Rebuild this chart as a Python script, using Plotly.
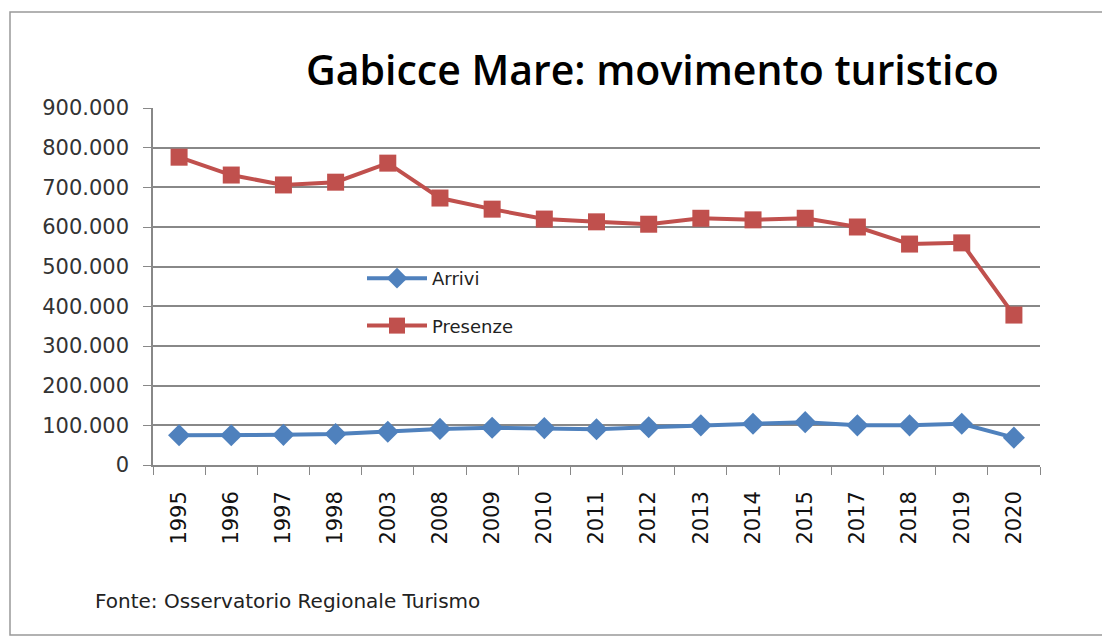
import plotly.graph_objects as go

anni = ["1995", "1996", "1997", "1998", "2003", "2008", "2009", "2010", "2011",
        "2012", "2013", "2014", "2015", "2017", "2018", "2019", "2020"]
arrivi = [75000, 75000, 76000, 78000, 84000, 91000, 94000, 93000, 90000,
          95000, 100000, 104000, 108000, 100000, 100000, 104000, 69000]
presenze = [776000, 731000, 706000, 713000, 761000, 673000, 645000, 620000, 613000,
            607000, 622000, 618000, 622000, 600000, 557000, 560000, 378000]

# la pagina ha un margine di 8px: coordinate in pixel dell'immagine finale
OFF = 8
W, H = 1110 - OFF, 637 - OFF
L, R, T, B = 153, 1040, 108, 465

def px(x):
    return (x - L) / (R - L)

def py(y):
    return (B - y) / (B - T)

fig = go.Figure()
fig.add_trace(go.Scatter(x=anni, y=arrivi, name="Arrivi", mode="lines+markers",
                         legendgroup="a",
                         line=dict(color="#4F81BD", width=4),
                         marker=dict(symbol="diamond", size=17, color="#4F81BD")))
fig.add_trace(go.Scatter(x=anni, y=presenze, name="Presenze", mode="lines+markers",
                         legendgroup="p",
                         line=dict(color="#C0504D", width=4),
                         marker=dict(symbol="square", size=17, color="#C0504D")))

fig.update_layout(
    width=W, height=H,
    margin=dict(l=L - OFF, r=OFF + W - R, t=T - OFF, b=637 - B),
    paper_bgcolor="white", plot_bgcolor="white",
    separators=",.",
    font=dict(family="DejaVu Sans", color="#222"),
    showlegend=True,
    legend=dict(x=px(362), y=py(260), xanchor="left", yanchor="top",
                bgcolor="rgba(0,0,0,0)", font=dict(size=18, family="DejaVu Sans"),
                tracegroupgap=21, itemwidth=60),
    annotations=[
        dict(text="Gabicce Mare: movimento turistico", x=px(652), y=py(69),
             xref="paper", yref="paper", xanchor="center", yanchor="middle",
             showarrow=False,
             font=dict(size=41, family="Open Sans", weight=600, color="black")),
        dict(text="Fonte: Osservatorio Regionale Turismo", x=px(93), y=py(601),
             xref="paper", yref="paper", xanchor="left", yanchor="middle",
             showarrow=False, font=dict(size=20, family="DejaVu Sans", color="#222")),
    ],
    shapes=[dict(type="rect", xref="paper", yref="paper",
                 x0=px(10), x1=px(1104), y0=py(635), y1=py(12),
                 line=dict(color="#999", width=1.5))],
)
fig.update_xaxes(type="category", tickangle=-90, tickfont=dict(size=21, color="#111"),
                 ticklabelstandoff=16,
                 showline=True, linecolor="#888", linewidth=1.5,
                 ticks="outside", ticklen=8, tickcolor="#888", tickson="boundaries",
                 showgrid=False, range=[-0.5, 16.5])
fig.update_yaxes(range=[0, 900000], dtick=100000, tickformat=",d",
                 tickfont=dict(size=21, color="#333"), ticklabelstandoff=10,
                 showline=True, linecolor="#888", linewidth=1.5,
                 ticks="outside", ticklen=8, tickcolor="#888",
                 showgrid=True, gridcolor="#888", gridwidth=1.5, zeroline=False)

fig.write_html("out.html")
